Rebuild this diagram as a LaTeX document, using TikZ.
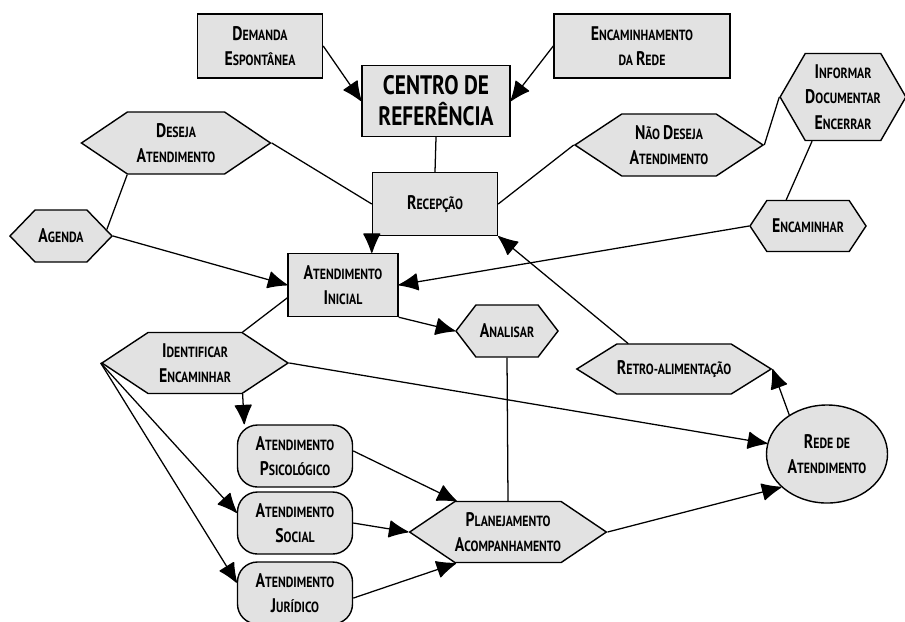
\documentclass[tikz,border=0pt]{standalone}
\usepackage{fontspec}
\setmainfont{PT Sans}[FakeStretch=0.8]
\usetikzlibrary{arrows.meta,shapes.symbols,shapes.geometric}

\definecolor{boxgray}{RGB}{226,226,226}
% small caps by hand: big first letter, rest in smaller capitals
\newcommand\scw[2]{{\fontsize{14}{18}\selectfont #1}#2}

\tikzset{
  box/.style={draw, line width=1pt, fill=boxgray, align=center, inner sep=0pt,
    font=\bfseries\fontsize{10.5}{18}\selectfont},
  rbox/.style 2 args={box, rectangle, minimum width=#1, minimum height=#2},
  obox/.style 2 args={box, rectangle, rounded corners=0.5cm, minimum width=#1, minimum height=#2},
  hexa/.style n args={3}{box, signal, signal to=west and east, minimum width=#1, minimum height=#2,
    signal pointer angle=#3},
  conn/.style={line width=0.9pt},
  arr/.style={conn, -{Latex[length=15pt,width=13pt,round]}}
}

\begin{document}
\begin{tikzpicture}[x=0.025cm, y=-0.025cm]
  \useasboundingbox (0,0) rectangle (905,621);
  % -=-=-=-=- ENTRADAS -=-=-=-=-
  \node[rbox={3.125cm}{1.6cm}] (demanda) at (260,46) {\scw{D}{EMANDA}\\\scw{E}{SPONTÂNEA}};
  \node[rbox={4.4cm}{1.6cm}] (encrede) at (642,46) {\scw{E}{NCAMINHAMENTO}\\DA \scw{R}{EDE}};
  \node[rbox={3.7cm}{1.775cm}, font=\bfseries\fontsize{19}{22}\selectfont] (centro) at (436,101) {CENTRO DE\\REFERÊNCIA};
  \node[rbox={3.125cm}{1.575cm}] (recepcao) at (435,204) {\scw{R}{ECEPÇÃO}};
  % -=-=-=-=- DECISOES -=-=-=-=-
  \node[hexa={4.725cm}{1.55cm}{68}] (deseja) at (176,143) {\scw{D}{ESEJA}\\\scw{A}{TENDIMENTO}};
  \node[hexa={4.7cm}{1.55cm}{67}] (naodeseja) at (669,145) {\scw{N}{ÃO} \scw{D}{ESEJA}\\\scw{A}{TENDIMENTO}};
  \node[hexa={3.075cm}{2.175cm}{120}] (informar) at (843,97) {\scw{I}{NFORMAR}\\\scw{D}{OCUMENTAR}\\\scw{E}{NCERRAR}};
  \node[hexa={2.55cm}{1.3cm}{92}] (agenda) at (61,236) {\scw{A}{GENDA}};
  \node[hexa={2.9cm}{1.275cm}{113}] (encaminhar) at (808,226) {\scw{E}{NCAMINHAR}};
  % -=-=-=-=- ATENDIMENTO -=-=-=-=-
  \node[rbox={2.75cm}{1.575cm}] (inicial) at (343,285) {\scw{A}{TENDIMENTO}\\\scw{I}{NICIAL}};
  \node[hexa={2.55cm}{1.3cm}{105}] (analisar) at (507,331) {\scw{A}{NALISAR}};
  \node[hexa={4.65cm}{1.525cm}{67}] (identificar) at (195,363) {\scw{I}{DENTIFICAR}\\\scw{E}{NCAMINHAR}};
  \node[hexa={4.25cm}{1.25cm}{64}] (retro) at (674,369) {\scw{R}{ETRO-ALIMENTAÇÃO}};
  \node[obox={2.875cm}{1.55cm}] (psico) at (295,456) {\scw{A}{TENDIMENTO}\\\scw{P}{SICOLÓGICO}};
  \node[obox={2.875cm}{1.55cm}] (social) at (295,523) {\scw{A}{TENDIMENTO}\\\scw{S}{OCIAL}};
  \node[obox={2.875cm}{1.55cm}] (juridico) at (295,593) {\scw{A}{TENDIMENTO}\\\scw{J}{URÍDICO}};
  \node[hexa={4.675cm}{1.525cm}{68}] (planej) at (508,532) {\scw{P}{LANEJAMENTO}\\\scw{A}{COMPANHAMENTO}};
  \node[box, ellipse, minimum width=3.025cm, minimum height=2.45cm] (rede) at (827,454) {\scw{R}{EDE DE}\\\scw{A}{TENDIMENTO}};
  % -=-=-=-=- LIGACOES -=-=-=-=-
  \draw[arr] (demanda.east) -- (centro.west);
  \draw[arr] (encrede.west) -- (centro.east);
  \draw[conn] (centro.south) -- (recepcao.north);
  \draw[conn] (deseja.east) -- (recepcao.west);
  \draw[conn] (recepcao.east) -- (naodeseja.west);
  \draw[conn] (naodeseja.east) -- (informar.west);
  \draw[conn] (informar.235) -- (encaminhar.130);
  \draw[conn] (deseja.213) -- (agenda.8);
  \draw[arr] (agenda.east) -- (inicial.west);
  \draw[arr] (recepcao.south west) -- (recepcao.south west |- inicial.north);
  \draw[arr] (encaminhar.west) -- (inicial.east);
  \draw[arr] (retro.151) -- (recepcao.south east);
  \draw[arr] (inicial.south east) -- (analisar.west);
  \draw[conn] (inicial.193) -- (identificar.33);
  \draw[conn] (analisar.south) -- (planej.north);
  \draw[arr] (identificar.-33) -- (psico.148);
  \draw[arr] (identificar.west) -- (social.170);
  \draw[arr] (identificar.west) -- (juridico.170);
  \draw[arr] (identificar.east) -- (rede.170);
  \draw[arr] (psico.5) -- (planej.149);
  \draw[arr] (social.east) -- (planej.west);
  \draw[arr] (juridico.-5) -- (planej.211);
  \draw[arr] (planej.east) -- (rede.216);
  \draw[arr] (rede.134) -- (retro.east);
\end{tikzpicture}
\end{document}
